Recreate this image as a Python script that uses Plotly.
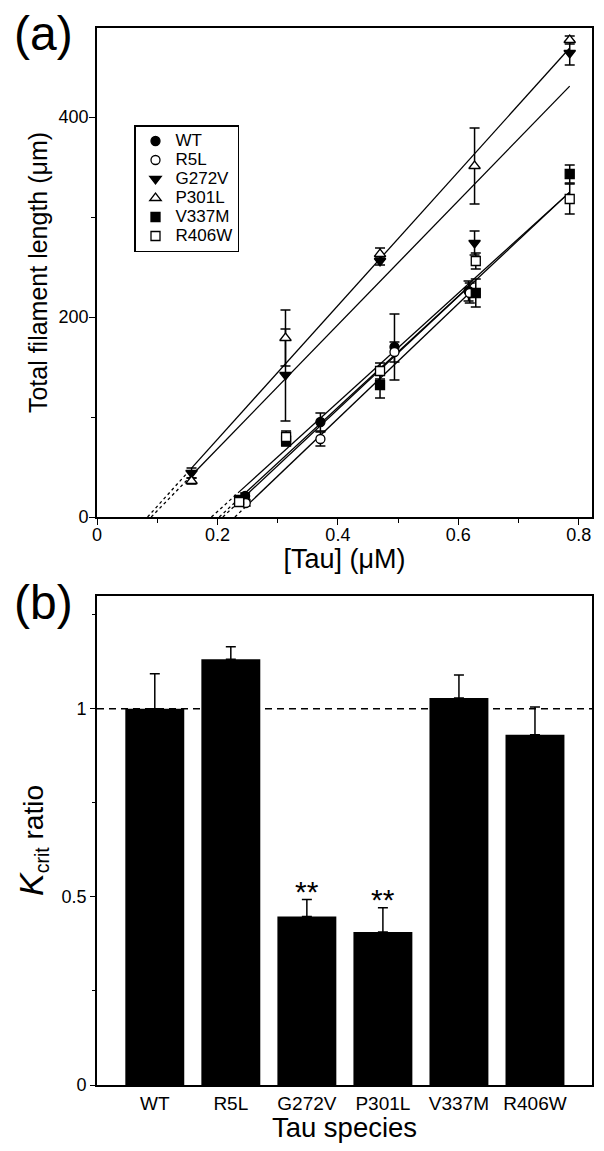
import plotly.graph_objects as go

# ---------------- Panel (a) data ----------------
series = ["WT", "R5L", "G272V", "P301L", "V337M", "R406W"]

wt_x = [0.246, 0.371, 0.494, 0.617]
wt_y = [21, 95, 170, 226]
wt_e = [3, 9, 33, 10]

r5l_x = [0.247, 0.371, 0.494, 0.619]
r5l_y = [14, 78, 165, 224]
r5l_e = [3, 7, 10, 10]

g272v_x = [0.157, 0.313, 0.470, 0.627, 0.785]
g272v_y = [44, 142, 256, 274, 464]
g272v_e = [5, 46, 4, 12, 12]

p301l_x = [0.157, 0.313, 0.470, 0.627, 0.785]
p301l_y = [36, 179, 263, 351, 477]
p301l_e = [3, 28, 6, 38, 4]

v337m_x = [0.236, 0.314, 0.470, 0.629, 0.785]
v337m_y = [17, 76, 132, 224, 343]
v337m_e = [3, 5, 13, 14, 9]

r406w_x = [0.236, 0.314, 0.470, 0.629, 0.785]
r406w_y = [15, 80, 146, 256, 318]
r406w_e = [3, 6, 8, 8, 15]

# linear fits: critical concentration (x-intercept) and slope
fit_x0 = [0.203, 0.229, 0.090, 0.084, 0.209, 0.190]
fit_slope = [556, 575, 620, 669, 564, 546]

# ---------------- Panel (b) data ----------------
species = ["WT", "R5L", "G272V", "P301L", "V337M", "R406W"]
kcrit_ratio = [1.0, 1.132, 0.448, 0.407, 1.029, 0.931]
kcrit_err = [0.093, 0.033, 0.045, 0.064, 0.061, 0.074]
signif = ["", "", "**", "**", "", ""]

xs = [wt_x, r5l_x, g272v_x, p301l_x, v337m_x, r406w_x]
ys = [wt_y, r5l_y, g272v_y, p301l_y, v337m_y, r406w_y]
es = [wt_e, r5l_e, g272v_e, p301l_e, v337m_e, r406w_e]
symbols = ["circle", "circle", "triangle-down", "triangle-up", "square", "square"]
fills = ["black", "white", "black", "white", "black", "white"]

FONT = "Liberation Sans, Arial, sans-serif"

# page body has an 8px margin: plot area in page pixels is x 97..592, y 28..517 / 596..1085
OFF = 8
W, H = 604 - 2 * OFF, 1151 - 2 * OFF
PL, PR = 97, 592
PT, PB = 28, 1085


def px(xp):
    return (xp - PL) / (PR - PL)


def py(yp):
    return (PB - yp) / (PB - PT)


fig = go.Figure()

# fit lines (solid over data span, dotted extrapolation to x-intercept)
for i in range(len(series)):
    x_first, x_last = xs[i][0], xs[i][-1]
    x0, m = fit_x0[i], fit_slope[i]
    fig.add_trace(go.Scatter(
        x=[x_first, x_last], y=[m * (x_first - x0), m * (x_last - x0)],
        mode="lines", line=dict(color="black", width=1.3),
        showlegend=False, hoverinfo="skip", xaxis="x", yaxis="y"))
    fig.add_trace(go.Scatter(
        x=[x0, x_first], y=[0, m * (x_first - x0)],
        mode="lines", line=dict(color="black", width=1.3, dash="dot"),
        showlegend=False, hoverinfo="skip", xaxis="x", yaxis="y"))

# data points
for i in range(len(series)):
    fig.add_trace(go.Scatter(
        x=xs[i], y=ys[i],
        name=f"<span style='font-size:17px'>{series[i]}</span>",
        mode="markers",
        marker=dict(symbol=symbols[i], size=10 if "triangle" in symbols[i] else 9,
                    color=fills[i], line=dict(color="black", width=1.3)),
        error_y=dict(type="data", array=es[i], color="black", thickness=1.5, width=5),
        xaxis="x", yaxis="y"))

# bars
fig.add_trace(go.Bar(
    x=species, y=kcrit_ratio, marker=dict(color="black", line=dict(width=0)),
    width=0.775, showlegend=False,
    error_y=dict(type="data", symmetric=False, array=kcrit_err,
                 arrayminus=[0] * len(species), color="black", thickness=1.5, width=5),
    xaxis="x2", yaxis="y2"))

# significance stars
for i, s in enumerate(signif):
    if s:
        fig.add_annotation(x=species[i], y=kcrit_ratio[i] + kcrit_err[i], text=s,
                           xref="x2", yref="y2", showarrow=False, yanchor="bottom",
                           yshift=-10, font=dict(size=30, color="black", family=FONT))

# reference dashed line at ratio 1
fig.add_shape(type="line", xref="x2 domain", yref="y2", x0=0, x1=1, y0=1, y1=1,
              line=dict(color="black", width=1.5, dash="7px,5px"))

axis_common = dict(showline=True, linecolor="black", linewidth=1.8, mirror=True,
                   ticks="outside", ticklen=6, tickwidth=1.3, tickcolor="black",
                   showgrid=False, zeroline=False, automargin=False,
                   tickfont=dict(size=18, color="black", family=FONT))

fig.update_layout(
    template="none",
    width=W, height=H,
    margin=dict(l=PL - OFF, r=W - (PR - OFF), t=PT - OFF, b=H - (PB - OFF)),
    paper_bgcolor="white", plot_bgcolor="white",
    font=dict(family=FONT, color="black"),
    xaxis=dict(**axis_common, domain=[0, 1], anchor="y", range=[0, 0.822],
               dtick=0.2, tick0=0, ticklabelstandoff=-6,
               minor=dict(dtick=0.1, ticks="outside", ticklen=4, tickcolor="black"),
               title=dict(text="[Tau] (μM)", font=dict(size=27, family=FONT), standoff=2)),
    yaxis=dict(**axis_common, domain=[py(517), 1], anchor="x", range=[0, 489],
               dtick=200, tick0=0, ticklabelstandoff=-3,
               minor=dict(dtick=100, ticks="outside", ticklen=4, tickcolor="black"),
               title=dict(text="Total filament length (μm)", font=dict(size=25, family=FONT),
                          standoff=4)),
    xaxis2=dict(**{k: v for k, v in axis_common.items() if k not in ("ticks", "tickfont")},
                ticks="", tickfont=dict(size=19, color="black", family=FONT),
                domain=[0, 1], anchor="y2", range=[-0.76, 5.75],
                title=dict(text="Tau species", font=dict(size=27.5, family=FONT), standoff=1)),
    yaxis2=dict(**{k: v for k, v in axis_common.items() if k not in ("ticklen",)},
                ticklen=5, domain=[0, py(596)], anchor="x2", range=[0, 1.3],
                tickvals=[0, 0.5, 1], ticktext=["0", "0.5", "1"],
                minor=dict(tickvals=[0.25, 0.75, 1.25], ticks="outside", ticklen=3,
                           tickcolor="black"),
                title=dict(text="<i><span style='font-size:34px'>K</span></i><sub>crit</sub> ratio",
                           font=dict(size=28, family=FONT), standoff=10)),
    legend=dict(x=px(134), y=py(125), xanchor="left", yanchor="top",
                bordercolor="black", borderwidth=1.5, bgcolor="white",
                font=dict(size=12, family=FONT, color="black"),
                itemwidth=30, tracegroupgap=0),
)

fig.add_annotation(text="(a)", xref="paper", yref="paper", x=px(12),
                   y=py(34), xanchor="left", yanchor="middle", showarrow=False,
                   font=dict(size=48, family=FONT, color="black"))
fig.add_annotation(text="(b)", xref="paper", yref="paper", x=px(12),
                   y=py(602), xanchor="left", yanchor="middle", showarrow=False,
                   font=dict(size=48, family=FONT, color="black"))

fig.write_html("out.html")
